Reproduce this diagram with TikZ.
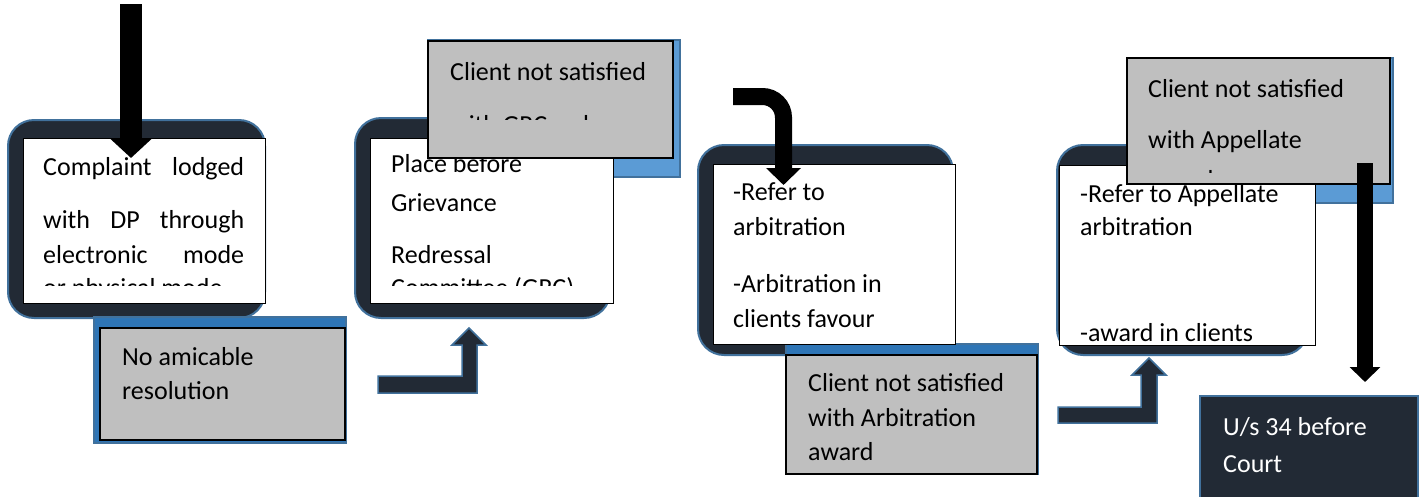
\documentclass[tikz,border=0pt]{standalone}
\usepackage{fontspec}
\setmainfont{Carlito}
\usetikzlibrary{arrows.meta,calc}
\definecolor{darkfill}{HTML}{222A35}
\definecolor{blueline}{HTML}{41719C}
\definecolor{lightblue}{HTML}{5B9BD5}
\definecolor{midblue}{HTML}{2E75B6}
\definecolor{grayfill}{HTML}{BFBFBF}
\tikzset{
	frame/.style={draw=blueline,fill=darkfill,line width=2pt,rounded corners=26pt,inner sep=0pt,outer sep=0pt},
	whitebox/.style={draw=black,fill=white,line width=0.8pt,inner sep=0pt,outer sep=0pt},
	backbox/.style={draw=blueline,fill=#1,line width=1.5pt,inner sep=0pt,outer sep=0pt},
	graybox/.style={draw=black,fill=grayfill,line width=1.6pt,inner sep=0pt,outer sep=0pt},
	txt/.style={anchor=base west,inner sep=0pt,font=\fontsize{26}{31}\selectfont},
	bent/.style={draw=blueline,fill=darkfill,line width=1.5pt,line join=miter},
}

\begin{document}
\begin{tikzpicture}[x=1pt,y=-1pt]
		\useasboundingbox (0,0) rectangle (1422,496);

		% rounded frames
		\node[frame,minimum width=257pt,minimum height=198pt] (fa) at (136.5,219) {};
		\node[frame,minimum width=255pt,minimum height=200pt] (fb) at (482.5,218) {};
		\node[frame,minimum width=255pt,minimum height=210pt] (fc) at (825.5,250) {};
		\node[frame,minimum width=251pt,minimum height=210pt] (fd) at (1182.5,250) {};

		% blue boxes behind the grey ones
		\node[backbox=midblue,minimum width=252pt,minimum height=126pt] (ba) at (220,380) {};
		\node[backbox=lightblue,minimum width=252pt,minimum height=137pt] (bb) at (554,108.5) {};
		\node[backbox=midblue,minimum width=252pt,minimum height=130pt] (bc) at (912,409) {};
		\node[backbox=lightblue,minimum width=266pt,minimum height=145pt] (bd) at (1260,130.5) {};

		% white boxes
		\node[whitebox,minimum width=242pt,minimum height=165pt] (wa) at (144,220.5) {};
		\node[whitebox,minimum width=243pt,minimum height=165pt] (wb) at (491.5,220.5) {};
		\node[whitebox,minimum width=242pt,minimum height=180pt] (wc) at (834,254) {};
		\node[whitebox,minimum width=256pt,minimum height=180pt] (wd) at (1187,255) {};

		\begin{scope}
			\clip (wa.north west) rectangle ($(wa.south east)+(0,-18)$);
			\node[txt] (ta1) at (43,175) {\hbox to 201pt{Complaint\hfill lodged}};
			\node[txt] (ta2) at (43,228) {\hbox to 201pt{with\hfill DP\hfill through}};
			\node[txt] (ta3) at (43,263) {\hbox to 201pt{electronic\hfill mode}};
			\node[txt] (ta4) at (43,296) {or physical mode};
		\end{scope}

		\begin{scope}
			\clip (wb.north west) rectangle ($(wb.south east)+(0,-18)$);
			\node[txt] (tb1) at (391,172) {Place before};
			\node[txt] (tb2) at (391,211) {Grievance};
			\node[txt] (tb3) at (391,263) {Redressal};
			\node[txt] (tb4) at (391,296) {Committee (GRC)};
		\end{scope}

		\node[txt] (tc1) at (733,200) {-Refer to};
		\node[txt] (tc2) at (733,235) {arbitration};
		\node[txt] (tc3) at (733,292) {-Arbitration in};
		\node[txt] (tc4) at (733,327) {clients favour};

		\begin{scope}
			\clip (wd.north west) rectangle (wd.south east);
			\node[txt] (td1) at (1080,202) {-Refer to Appellate};
			\node[txt] (td2) at (1080,235) {arbitration};
			\node[txt] (td3) at (1080,341) {-award in clients};
		\end{scope}

		% grey boxes
		\node[graybox,minimum width=245pt,minimum height=112pt] (ga) at (222.5,384) {};
		\node[graybox,minimum width=245pt,minimum height=117pt] (gb) at (550.5,99.5) {};
		\node[graybox,minimum width=251pt,minimum height=119pt] (gc) at (911.5,414.5) {};
		\node[graybox,minimum width=263pt,minimum height=126pt] (gd) at (1258.5,121) {};

		\node[txt] (sa1) at (122,365) {No amicable};
		\node[txt] (sa2) at (122,399) {resolution};

		\begin{scope}
			\clip (gb.north west) rectangle ($(gb.south east)+(0,-39)$);
			\node[txt] (sb1) at (450,80) {Client not satisfied};
			\node[txt] (sb2) at (450,133) {with GRC order};
		\end{scope}

		\node[txt] (sc1) at (808,391) {Client not satisfied};
		\node[txt] (sc2) at (808,426) {with Arbitration};
		\node[txt] (sc3) at (808,460) {award};

		\begin{scope}
			\clip (gd.north west) rectangle ($(gd.south east)+(0,-12)$);
			\node[txt] (sd1) at (1148,97) {Client not satisfied};
			\node[txt] (sd2) at (1148,148) {with Appellate};
			\node[txt] (sd3) at (1148,188) {award};
		\end{scope}

		% black arrows
		\coordinate (inA) at (131,4);
		\coordinate (tipA) at (131,158);
		\draw[line width=22pt,-{Triangle[length=20pt,width=42pt]}] (inA) -- (tipA);

		\coordinate (inC) at (733,96.5);
		\coordinate (tipC) at (783.5,185);
		\draw[line width=17pt,rounded corners=21pt,-{Triangle[length=17pt,width=34pt]}] (inC) -| (tipC);

		\coordinate (outD) at (1365,163);
		\coordinate (tipD) at (1365,382);
		\draw[line width=16pt,-{Triangle[length=15pt,width=30pt]}] (outD) -- (tipD);

		% bent arrows
		\coordinate (upB) at (469,328);
		\draw[bent] (upB) -- ++(17,17) -- ++(-9,0) -- ++(0,48) -- ++(-99,0)
			-- ++(0,-17) -- ++(84,0) -- ++(0,-31) -- ++(-10,0) -- cycle;

		\coordinate (upD) at (1149,358);
		\draw[bent] (upD) -- ++(17,17) -- ++(-9,0) -- ++(0,48) -- ++(-99,0)
			-- ++(0,-16) -- ++(83,0) -- ++(0,-32) -- ++(-9,0) -- cycle;

		% court
		\node[backbox=darkfill,minimum width=218pt,minimum height=106pt] (court) at (1309,449) {};
		\node[txt,text=white] (ce1) at (1223,435) {U/s 34 before};
		\node[txt,text=white] (ce2) at (1223,472) {Court};
	\end{tikzpicture}
\end{document}
